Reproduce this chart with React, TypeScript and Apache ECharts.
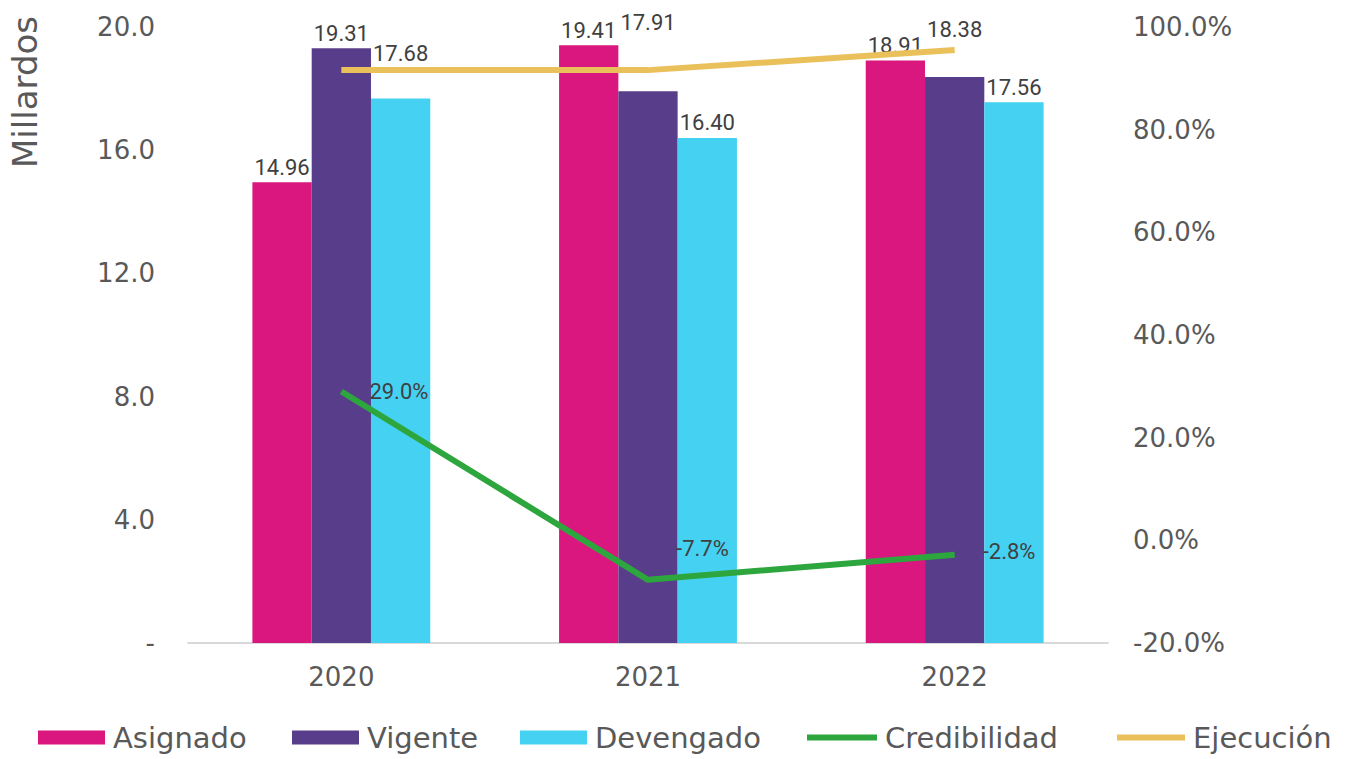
import React, { useEffect, useRef } from "react";
import * as echarts from "echarts";

const categories = ["2020", "2021", "2022"];
const asignado = [14.96, 19.41, 18.91];
const vigente = [19.31, 17.91, 18.38];
const devengado = [17.68, 16.4, 17.56];
const credibilidad = [29.0, -7.7, -2.8];
const ejecucion = [91.6, 91.6, 95.5];
const leftTicks = { min: 0, max: 20, interval: 4 };
const rightTicks = { min: -20, max: 100, interval: 20 };

const colors = {
  asignado: "#D9177E",
  vigente: "#583D8A",
  devengado: "#45D2F2",
  credibilidad: "#2EA63E",
  ejecucion: "#EAC05B",
};

const axisFont = "'DejaVu Sans', 'Open Sans', sans-serif";
const labelFont = "Roboto, 'Liberation Sans', sans-serif";
const textGray = "#595959";
const labelGray = "#404040";

// extra vertical offsets for bar labels (styling, not data)
const vigOffsets = [0, -54, -32];
const devOffsets = [-30, 0, 0];
const credOffsets = [0, -31, -3];

export default function App() {
  const ref = useRef<HTMLDivElement>(null);
  useEffect(() => {
    if (!ref.current) return;
    const chart = echarts.init(ref.current, undefined, { renderer: "svg" });
    const barLabel = {
      show: true,
      position: "top",
      distance: 4,
      color: labelGray,
      fontFamily: labelFont,
      fontSize: 22,
      formatter: (p: any) => Number(p.value).toFixed(2),
    };
    const mkBarData = (vals: number[], offs?: number[]) =>
      vals.map((v, i) => ({
        value: v,
        label: offs && offs[i] ? { offset: [0, offs[i]] } : undefined,
      }));
    const legendBase = {
      top: 723,
      padding: 0,
      itemGap: 0,
      textStyle: { color: textGray, fontFamily: axisFont, fontSize: 29, padding: [0, 0, 0, 3] },
      selectedMode: false,
    };
    chart.setOption({
      animation: false,
      backgroundColor: "#ffffff",
      grid: { left: 188, right: 247, top: 27, bottom: 116, containLabel: false },
      legend: [
        { ...legendBase, left: 38, itemWidth: 67, itemHeight: 14, data: [{ name: "Asignado", icon: "rect" }] },
        { ...legendBase, left: 292, itemWidth: 67, itemHeight: 14, data: [{ name: "Vigente", icon: "rect" }] },
        { ...legendBase, left: 520, itemWidth: 67, itemHeight: 14, data: [{ name: "Devengado", icon: "rect" }] },
        { ...legendBase, left: 807, itemWidth: 70, itemHeight: 6, data: [{ name: "Credibilidad", icon: "rect" }] },
        { ...legendBase, left: 1117, itemWidth: 68, itemHeight: 6, data: [{ name: "Ejecución", icon: "rect" }] },
      ],
      graphic: [
        {
          type: "text",
          x: 25,
          y: 92,
          rotation: Math.PI / 2,
          style: {
            text: "Millardos",
            fill: textGray,
            font: `34px ${axisFont}`,
            textAlign: "center",
            textVerticalAlign: "middle",
          },
        },
      ],
      xAxis: {
        type: "category",
        data: categories,
        axisLine: { show: true, lineStyle: { color: "#D9D9D9", width: 2 } },
        axisTick: { show: false },
        axisLabel: { color: textGray, fontFamily: axisFont, fontSize: 26, margin: 21 },
      },
      yAxis: [
        {
          type: "value",
          ...leftTicks,
          splitLine: { show: false },
          axisLine: { show: false },
          axisTick: { show: false },
          axisLabel: {
            color: textGray,
            fontFamily: axisFont,
            fontSize: 26,
            margin: 33,
            formatter: (v: number) => (v === 0 ? "-" : v.toFixed(1)),
          },
        },
        {
          type: "value",
          ...rightTicks,
          splitLine: { show: false },
          axisLine: { show: false },
          axisTick: { show: false },
          axisLabel: {
            color: textGray,
            fontFamily: axisFont,
            fontSize: 26,
            margin: 25,
            formatter: (v: number) => v.toFixed(1) + "%",
          },
        },
      ],
      series: [
        {
          name: "Asignado",
          type: "bar",
          data: mkBarData(asignado),
          barGap: "0%",
          barCategoryGap: "42%",
          itemStyle: { color: colors.asignado },
          label: barLabel,
        },
        {
          name: "Vigente",
          type: "bar",
          data: mkBarData(vigente, vigOffsets),
          itemStyle: { color: colors.vigente },
          label: barLabel,
        },
        {
          name: "Devengado",
          type: "bar",
          data: mkBarData(devengado, devOffsets),
          itemStyle: { color: colors.devengado },
          label: barLabel,
        },
        {
          name: "Credibilidad",
          type: "line",
          yAxisIndex: 1,
          data: credibilidad.map((v, i) => ({ value: v, label: { offset: [0, credOffsets[i]] } })),
          symbol: "circle",
          symbolSize: 0.1,
          showSymbol: true,
          lineStyle: { color: colors.credibilidad, width: 6 },
          itemStyle: { color: colors.credibilidad },
          label: {
            show: true,
            position: "right",
            distance: 28,
            color: labelGray,
            fontFamily: labelFont,
            fontSize: 22,
            formatter: (p: any) => Number(p.value).toFixed(1) + "%",
          },
          z: 5,
        },
        {
          name: "Ejecución",
          type: "line",
          yAxisIndex: 1,
          data: ejecucion,
          symbol: "none",
          lineStyle: { color: colors.ejecucion, width: 6 },
          itemStyle: { color: colors.ejecucion },
          z: 5,
        },
      ],
    });
    return () => chart.dispose();
  }, []);
  return (
    <div
      ref={ref}
      style={{ position: "fixed", left: 0, top: 0, width: 1355, height: 759 }}
    />
  );
}
